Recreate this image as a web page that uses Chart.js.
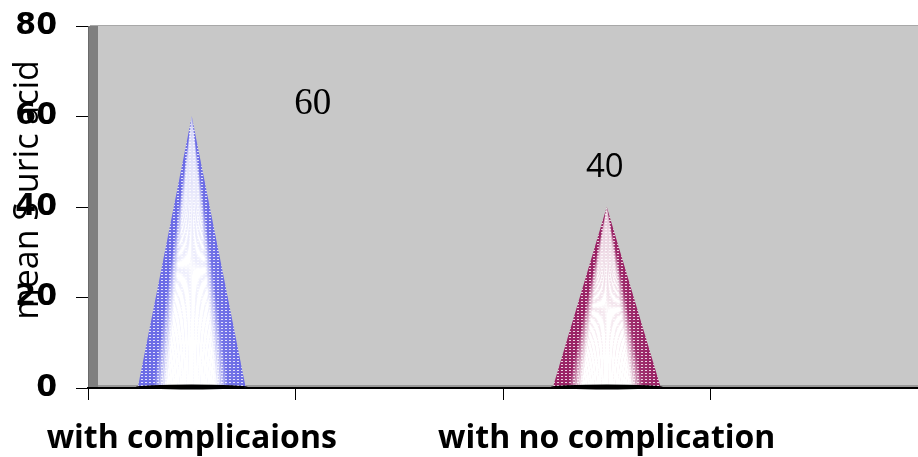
<!DOCTYPE html>
<html>
<head>
<meta charset="utf-8">
<script src="https://cdn.jsdelivr.net/npm/chart.js@4"></script>
<style>
  html, body { margin: 0; padding: 0; background: #fff; }
  #wrap { width: 918px; height: 457px; }
</style>
</head>
<body>
<div id="wrap"><canvas id="grafica" width="918" height="457"></canvas></div>
<script>
// datos del grafico
const categorias = ['with complicaions', '', 'with no complication', ''];
const acidoUrico = [60, null, 40, null];
const etiquetasValor = ['60', null, '40', null];
const ticksY = [0, 20, 40, 60, 80];
const tituloY = 'mean S uric acid';

const coloresCono = ['#6c6ce6', null, '#9a2466', null];

// patron punteado para los conos
function crearPatron(ctx, color) {
  const c = document.createElement('canvas');
  c.width = 4; c.height = 3;
  const p = c.getContext('2d');
  p.fillStyle = color;
  p.fillRect(0, 0, 4, 3);
  p.fillStyle = 'rgba(255,255,255,0.8)';
  p.fillRect(1, 1, 2, 1);
  return ctx.createPattern(c, 'repeat');
}

// intensidad del brillo blanco segun la posicion horizontal del cono
function brillo(t) {
  if (t < 0.14) return 0;
  if (t < 0.27) return (t - 0.14) / 0.13;
  if (t < 0.72) return 1;
  if (t < 0.84) return 1 - (t - 0.72) / 0.12 * 0.95;
  return 0.05 * (1 - (t - 0.84) / 0.16);
}

const fondo = {
  id: 'fondo',
  beforeDraw(chart) {
    const { ctx, chartArea: a } = chart;
    ctx.save();
    ctx.fillStyle = '#fff';
    ctx.fillRect(0, 0, chart.width, chart.height);
    // pared izquierda
    ctx.fillStyle = '#7f7f7f';
    ctx.fillRect(a.left, a.top, 10, a.bottom - a.top);
    ctx.fillStyle = '#6a6a6a';
    ctx.fillRect(a.left, a.top, 1, a.bottom - a.top);
    // area del grafico
    ctx.fillStyle = '#c8c8c8';
    ctx.fillRect(a.left + 10, a.top, a.right - a.left - 10, a.bottom - a.top);
    ctx.fillStyle = '#a8a8a8';
    ctx.fillRect(a.left + 2, a.top - 1, a.right - a.left - 2, 1);
    // piso
    ctx.fillStyle = '#9a9a9a';
    ctx.fillRect(a.left + 10, a.bottom - 3, a.right - a.left - 10, 2);
    ctx.restore();
  },
  afterDraw(chart, args, opts) {
    // titulo del eje y
    const { ctx } = chart;
    ctx.save();
    ctx.translate(opts.x, opts.y);
    ctx.rotate(-Math.PI / 2);
    ctx.font = opts.fuente;
    ctx.fillStyle = '#000';
    ctx.textAlign = 'center';
    ctx.textBaseline = 'middle';
    ctx.fillText(tituloY, 0, 0);
    ctx.restore();
  }
};

const conos = {
  id: 'conos',
  afterDatasetsDraw(chart) {
    const { ctx } = chart;
    const meta = chart.getDatasetMeta(0);
    meta.data.forEach((bar, i) => {
      if (acidoUrico[i] == null) return;
      const { x, y, base, width } = bar.getProps(['x', 'y', 'base', 'width'], true);
      const izq = x - width / 2, der = x + width / 2;
      ctx.save();
      ctx.beginPath();
      ctx.moveTo(x, y);
      ctx.lineTo(der, base);
      ctx.lineTo(izq, base);
      ctx.closePath();
      ctx.fillStyle = crearPatron(ctx, coloresCono[i]);
      ctx.fill();
      // brillo en franjas desde la punta
      const n = 60;
      for (let k = 0; k < n; k++) {
        const t0 = k / n, t1 = (k + 1) / n;
        ctx.beginPath();
        ctx.moveTo(x, y);
        ctx.lineTo(izq + width * t0 - 0.3, base);
        ctx.lineTo(izq + width * t1 + 0.3, base);
        ctx.closePath();
        ctx.fillStyle = 'rgba(255,255,255,' + brillo((t0 + t1) / 2).toFixed(3) + ')';
        ctx.fill();
      }
      // base negra
      ctx.beginPath();
      ctx.ellipse(x, base - 0.5, width / 2 + 2, 2.5, 0, 0, Math.PI * 2);
      ctx.fillStyle = '#000';
      ctx.fill();
      ctx.restore();
    });
  }
};

const etiquetas = {
  id: 'etiquetas',
  afterDatasetsDraw(chart, args, opts) {
    const { ctx } = chart;
    const meta = chart.getDatasetMeta(0);
    meta.data.forEach((bar, i) => {
      if (etiquetasValor[i] == null) return;
      const d = opts.desplazamientos[i];
      ctx.save();
      ctx.font = opts.fuentes[i];
      ctx.fillStyle = '#000';
      ctx.textAlign = 'center';
      ctx.textBaseline = 'middle';
      ctx.fillText(etiquetasValor[i], bar.x + d[0], bar.y + d[1]);
      ctx.restore();
    });
  }
};

new Chart(document.getElementById('grafica').getContext('2d'), {
  type: 'bar',
  data: {
    labels: categorias,
    datasets: [{
      label: tituloY,
      data: acidoUrico,
      backgroundColor: 'rgba(0,0,0,0)',
      borderWidth: 0,
      barPercentage: 0.52,
      categoryPercentage: 1
    }]
  },
  options: {
    responsive: false,
    animation: false,
    layout: { padding: { top: 26, right: 0, left: 0, bottom: 0 } },
    plugins: {
      legend: { display: false },
      tooltip: { enabled: false },
      fondo: { x: 28, y: 190, fuente: '34px "Open Sans"' },
      etiquetas: {
        desplazamientos: [[121, -12], null, [-2, -39], null],
        fuentes: ['37px "Liberation Serif"', null, '33px "Open Sans"', null]
      }
    },
    scales: {
      x: {
        offset: true,
        grid: { offset: true, drawOnChartArea: false, tickLength: 12, color: '#000', lineWidth: 1 },
        border: { color: '#000', width: 2 },
        ticks: {
          autoSkip: false,
          maxRotation: 0,
          color: '#000',
          padding: 20,
          font: { family: 'Open Sans', size: 32, weight: 'bold' }
        },
        afterFit(s) { s.height = 69; s.paddingLeft = 0; s.paddingRight = 0; }
      },
      y: {
        min: 0,
        max: 80,
        afterBuildTicks(s) { s.ticks = ticksY.map(v => ({ value: v })); },
        grid: { drawOnChartArea: false, tickLength: 12, color: '#000', lineWidth: 1 },
        border: { display: false },
        ticks: {
          color: '#000',
          padding: 19,
          font: { family: 'DejaVu Sans', size: 30, weight: 'bold' }
        },
        afterFit(s) { s.width = 88; s.paddingTop = 0; s.paddingBottom = 0; }
      }
    }
  },
  plugins: [fondo, conos, etiquetas]
});
</script>
</body>
</html>
